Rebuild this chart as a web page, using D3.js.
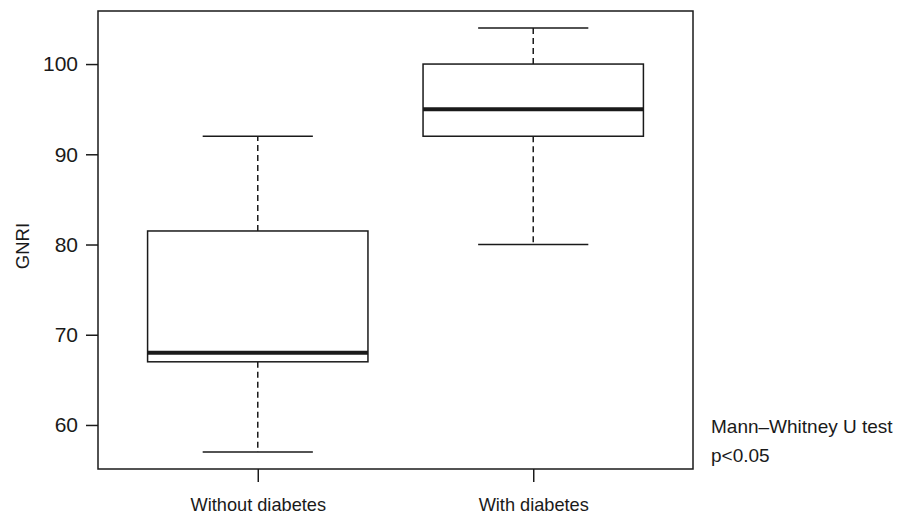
<!DOCTYPE html>
<html>
<head>
<meta charset="utf-8">
<script src="https://cdn.jsdelivr.net/npm/d3@7"></script>
<style>
  html, body { margin: 0; padding: 0; background: #fff; }
  svg { display: block; font-family: "Liberation Sans", Arial, Helvetica, sans-serif; }
</style>
</head>
<body>
<svg id="chart" width="901" height="515"></svg>
<script>
// ---- Data ----
const categories = ["Without diabetes", "With diabetes"];
const whiskerLow = [57, 80];
const q1 = [67, 92];
const median = [68, 95];
const q3 = [81.5, 100];
const whiskerHigh = [92, 104];
const yTicks = [60, 70, 80, 90, 100];
const yLabel = "GNRI";
const noteLines = ["Mann\u2013Whitney U test", "p<0.05"];

// ---- Layout ----
const svg = d3.select("#chart");
const plot = { left: 98, right: 693, top: 11, bottom: 469 };
const ink = "#1a1a1a";

const lo = d3.min(whiskerLow), hi = d3.max(whiskerHigh);
const ext = (hi - lo) * 0.04;
const y = d3.scaleLinear().domain([lo - ext, hi + ext]).range([plot.bottom, plot.top]);
const x = d3.scalePoint().domain(categories).range([plot.left, plot.right]).padding(0.58);
const step = x.step();
const boxW = step * 0.8;
const capW = boxW / 2;

const boxes = categories.map((c, i) => ({
  cat: c, lo: whiskerLow[i], q1: q1[i], med: median[i], q3: q3[i], hi: whiskerHigh[i]
}));

// Y axis
const yAxis = d3.axisLeft(y).tickValues(yTicks).tickSize(12).tickPadding(8).tickFormat(d3.format("d"));
const gy = svg.append("g").attr("transform", `translate(${plot.left},0)`).call(yAxis);
gy.select(".domain").remove();
gy.selectAll(".tick line").attr("stroke", ink).attr("stroke-width", 1.5);
gy.selectAll(".tick text").attr("fill", ink).attr("font-size", 21).attr("font-family", "Liberation Sans, Arial, sans-serif");

// X axis
const xAxis = d3.axisBottom(x).tickSize(13).tickPadding(16);
const gx = svg.append("g").attr("transform", `translate(0,${plot.bottom})`).call(xAxis);
gx.select(".domain").remove();
gx.selectAll(".tick line").attr("stroke", ink).attr("stroke-width", 1.5);
gx.selectAll(".tick text").attr("fill", ink).attr("font-size", 18.2).attr("font-family", "Liberation Sans, Arial, sans-serif");

// Boxes
const g = svg.append("g");
const bg = g.selectAll("g.box").data(boxes).join("g").attr("class", "box");

// dashed whiskers
bg.append("line")
  .attr("x1", d => x(d.cat)).attr("x2", d => x(d.cat))
  .attr("y1", d => y(d.q3)).attr("y2", d => y(d.hi))
  .attr("stroke", ink).attr("stroke-width", 1.5).attr("stroke-dasharray", "6,4");
bg.append("line")
  .attr("x1", d => x(d.cat)).attr("x2", d => x(d.cat))
  .attr("y1", d => y(d.q1)).attr("y2", d => y(d.lo))
  .attr("stroke", ink).attr("stroke-width", 1.5).attr("stroke-dasharray", "6,4");
// caps
bg.append("line")
  .attr("x1", d => x(d.cat) - capW / 2).attr("x2", d => x(d.cat) + capW / 2)
  .attr("y1", d => y(d.hi)).attr("y2", d => y(d.hi))
  .attr("stroke", ink).attr("stroke-width", 1.5);
bg.append("line")
  .attr("x1", d => x(d.cat) - capW / 2).attr("x2", d => x(d.cat) + capW / 2)
  .attr("y1", d => y(d.lo)).attr("y2", d => y(d.lo))
  .attr("stroke", ink).attr("stroke-width", 1.5);
// box
bg.append("rect")
  .attr("x", d => x(d.cat) - boxW / 2).attr("width", boxW)
  .attr("y", d => y(d.q3)).attr("height", d => y(d.q1) - y(d.q3))
  .attr("fill", "#fff").attr("stroke", ink).attr("stroke-width", 1.5);
// median
bg.append("line")
  .attr("x1", d => x(d.cat) - boxW / 2).attr("x2", d => x(d.cat) + boxW / 2)
  .attr("y1", d => y(d.med)).attr("y2", d => y(d.med))
  .attr("stroke", ink).attr("stroke-width", 4);

// Frame
svg.append("rect")
  .attr("x", plot.left).attr("y", plot.top)
  .attr("width", plot.right - plot.left).attr("height", plot.bottom - plot.top)
  .attr("fill", "none").attr("stroke", ink).attr("stroke-width", 1.5);

// Y label
svg.append("text")
  .attr("transform", `translate(29,${(plot.top + plot.bottom) / 2 + 6}) rotate(-90)`)
  .attr("text-anchor", "middle").attr("fill", ink).attr("font-size", 18.5)
  .text(yLabel);

// Note
svg.append("g").selectAll("text").data(noteLines).join("text")
  .attr("x", 711).attr("y", (d, i) => 433 + i * 29)
  .attr("fill", ink).attr("font-size", 19)
  .text(d => d);
</script>
</body>
</html>
